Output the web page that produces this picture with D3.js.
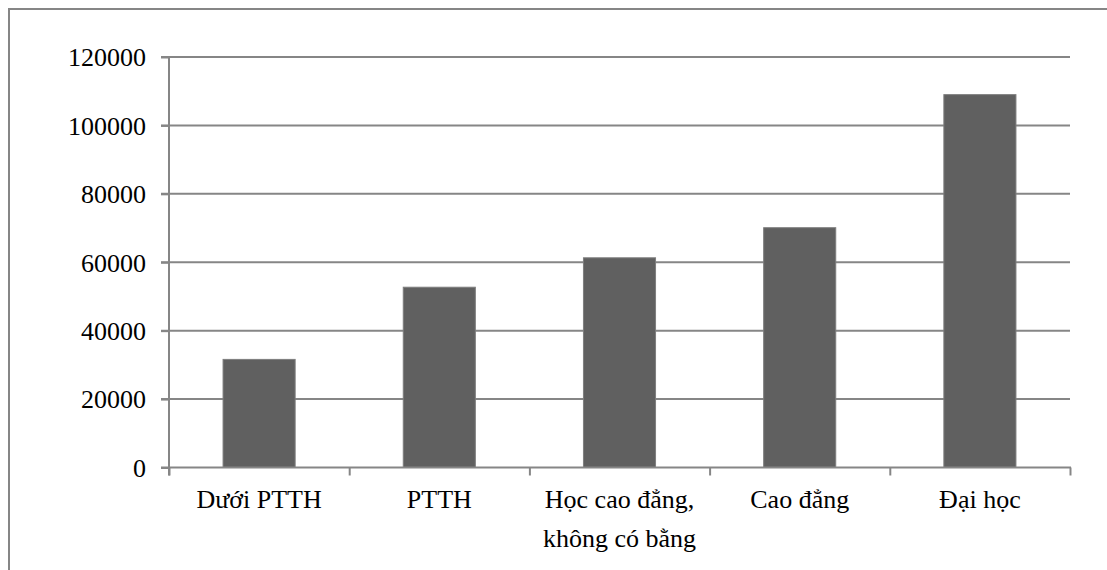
<!DOCTYPE html>
<html>
<head>
<meta charset="utf-8">
<script src="https://cdn.jsdelivr.net/npm/d3@7"></script>
<style>
  body { margin: 0; background: #fff; }
  text { font-family: "Liberation Serif", "Times New Roman", serif; fill: #000; }
</style>
</head>
<body>
<script>
const width = 1107,
    height = 570;

const categories = ['Dưới PTTH', 'PTTH', 'Học cao đẳng,|không có bằng', 'Cao đẳng', 'Đại học'];
const values = [31600, 52700, 61300, 70100, 109000];
const yTicks = [0, 20000, 40000, 60000, 80000, 100000, 120000];

const plotLeft = 169, plotRight = 1070, plotTop = 57, plotBottom = 467.5;

const x = d3.scaleBand().domain(categories).range([plotLeft, plotRight])
    .paddingInner(0.6).paddingOuter(0.3);
const xEdge = d3.scaleLinear().domain([0, categories.length]).range([plotLeft, plotRight]);
const y = d3.scaleLinear().domain([0, 120000]).range([plotBottom, plotTop]);

const svg = d3.select('body').append('svg')
    .attr('width', width)
    .attr('height', height);

// outer chart border (right and bottom edges sit off-canvas)
svg.append('rect')
    .attr('x', 9).attr('y', 9)
    .attr('width', width + 20).attr('height', height + 20)
    .attr('fill', 'none')
    .attr('stroke', '#868686')
    .attr('stroke-width', 2);

// gridlines
svg.append('g')
    .selectAll('line')
    .data(yTicks.slice(1))
    .enter()
    .append('line')
    .attr('x1', plotLeft - 8).attr('x2', plotRight)
    .attr('y1', d => y(d)).attr('y2', d => y(d))
    .attr('stroke', '#868686')
    .attr('stroke-width', 2);

// bars
svg.append('g')
    .selectAll('rect')
    .data(values)
    .enter()
    .append('rect')
    .attr('x', (d, i) => x(categories[i]))
    .attr('y', d => y(d))
    .attr('width', x.bandwidth())
    .attr('height', d => y(0) - y(d))
    .attr('fill', '#606060')
    .attr('stroke', '#7e7e7e')
    .attr('stroke-width', 1);

// y axis
const yAxis = d3.axisLeft(y).tickValues(yTicks).tickSize(8).tickPadding(15).tickFormat(d3.format('d'));
const gy = svg.append('g')
    .attr('transform', 'translate(' + plotLeft + ',0)')
    .call(yAxis);
gy.select('.domain').remove();
gy.selectAll('line').attr('stroke', '#868686').attr('stroke-width', 2);
gy.selectAll('text').style('font-size', '26px').attr('dy', '0.34em');
svg.append('line')
    .attr('x1', plotLeft).attr('x2', plotLeft)
    .attr('y1', plotTop - 1).attr('y2', plotBottom + 8)
    .attr('stroke', '#868686').attr('stroke-width', 2);

// x axis
const xAxis = d3.axisBottom(xEdge).tickValues(d3.range(categories.length + 1)).tickSize(8).tickFormat('');
const gx = svg.append('g')
    .attr('transform', 'translate(0,' + plotBottom + ')')
    .call(xAxis);
gx.select('.domain').remove();
gx.selectAll('line').attr('stroke', '#868686').attr('stroke-width', 2);
svg.append('line')
    .attr('x1', plotLeft - 8).attr('x2', plotRight + 1)
    .attr('y1', plotBottom).attr('y2', plotBottom)
    .attr('stroke', '#868686').attr('stroke-width', 2);

// category labels
const labels = svg.append('g')
    .selectAll('text')
    .data(categories)
    .enter()
    .append('text')
    .attr('text-anchor', 'middle')
    .style('font-size', '26px')
    .attr('transform', d => 'translate(' + (x(d) + x.bandwidth() / 2) + ',' + (plotBottom + 40.5) + ')');
labels.selectAll('tspan')
    .data(d => d.split('|'))
    .enter()
    .append('tspan')
    .attr('x', 0)
    .attr('dy', (d, i) => i === 0 ? 0 : 39)
    .text(d => d);
</script>
</body>
</html>
